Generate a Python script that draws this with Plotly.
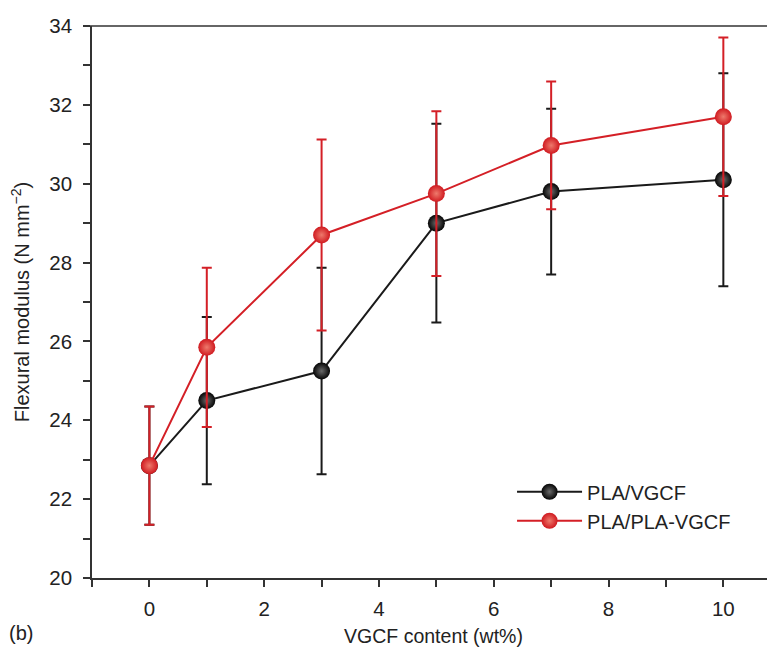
import plotly.graph_objects as go

x_vals = [0, 1, 3, 5, 7, 10]
pla_vgcf = [22.85, 24.5, 25.25, 29.0, 29.8, 30.1]
pla_vgcf_err = [1.5, 2.12, 2.62, 2.52, 2.1, 2.7]
pla_pla_vgcf = [22.85, 25.85, 28.7, 29.75, 30.97, 31.7]
pla_pla_vgcf_err = [1.5, 2.02, 2.42, 2.09, 1.62, 2.01]

x_ticks = [0, 2, 4, 6, 8, 10]
y_ticks = [20, 22, 24, 26, 28, 30, 32, 34]

BLACK = "#1a1a1a"
RED = "#d41f26"
AX = "#333333"
FONT = "Liberation Sans, Arial, Helvetica, sans-serif"
TXT = "#222222"

fig = go.Figure()
fig.add_trace(go.Scatter(
    x=x_vals, y=pla_vgcf, name="PLA/VGCF", mode="lines+markers",
    line=dict(color=BLACK, width=2),
    marker=dict(size=17, color="#050505", gradient=dict(type="radial", color="#6a6a6a"),
                line=dict(width=0)),
    error_y=dict(type="data", array=pla_vgcf_err, visible=True, color=BLACK,
                 thickness=2, width=5),
))
fig.add_trace(go.Scatter(
    x=x_vals, y=pla_pla_vgcf, name="PLA/PLA-VGCF", mode="lines+markers",
    line=dict(color=RED, width=2),
    marker=dict(size=17, color="#d01a20", gradient=dict(type="radial", color="#ee7a6c"),
                line=dict(width=0)),
    error_y=dict(type="data", array=pla_pla_vgcf_err, visible=True, color=RED,
                 thickness=2, width=5),
))

fig.update_layout(
    width=767, height=641,
    margin=dict(l=84, r=0, t=18, b=71),
    paper_bgcolor="white", plot_bgcolor="white",
    font=dict(family=FONT, size=20, color=TXT),
    showlegend=True,
    legend=dict(x=0.615, y=0.13, xanchor="left", yanchor="middle",
                bgcolor="rgba(0,0,0,0)", itemwidth=65,
                font=dict(size=20, color=TXT)),
    xaxis=dict(
        range=[-1, 10.9], tickmode="array", tickvals=x_ticks,
        ticks="outside", ticklen=7, tickwidth=1.5, tickcolor=AX,
        showline=True, linecolor=AX, linewidth=1.5,
        showgrid=False, zeroline=False, ticklabelstandoff=5,
        minor=dict(tickvals=[-1, 1, 3, 5, 7, 9], ticks="outside", ticklen=7,
                   tickwidth=1.5, tickcolor=AX, showgrid=False),
        title=dict(text="VGCF content (wt%)", standoff=10, font=dict(size=19.5)),
        tickfont=dict(size=20.5),
    ),
    yaxis=dict(
        range=[20, 34], tickmode="array", tickvals=y_ticks,
        ticks="outside", ticklen=7, tickwidth=1.5, tickcolor=AX,
        showline=True, linecolor=AX, linewidth=1.5,
        showgrid=False, zeroline=False, ticklabelstandoff=7,
        minor=dict(tickvals=[21, 23, 25, 27, 29, 31, 33], ticks="outside", ticklen=7,
                   tickwidth=1.5, tickcolor=AX, showgrid=False),
        title=dict(text="Flexural modulus (N mm<sup>−2</sup>)", standoff=19,
                   font=dict(size=20)),
        tickfont=dict(size=20.5),
    ),
)

fig.add_shape(type="line", xref="paper", yref="paper", x0=-0.01, x1=1, y0=1, y1=1,
              line=dict(color=AX, width=1.5))
fig.add_annotation(text="(b)", xref="paper", yref="paper", x=-0.125, y=-0.1,
                   xanchor="left", yanchor="middle", showarrow=False,
                   font=dict(size=20, color=TXT))

fig.write_html("out.html")
